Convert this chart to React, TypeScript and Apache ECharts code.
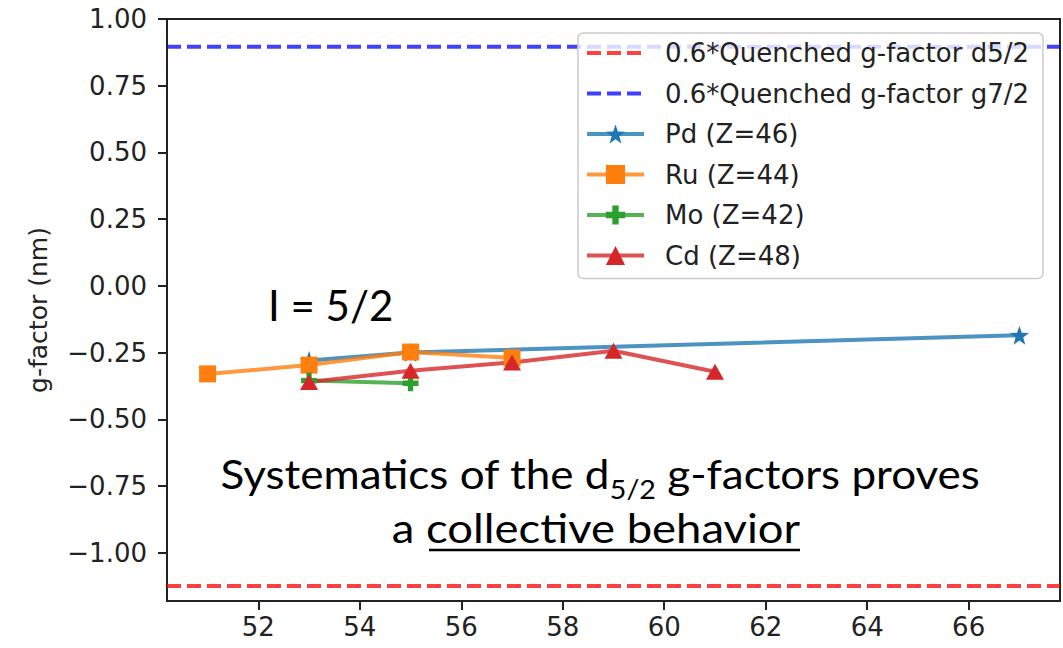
import React, { useEffect, useRef } from "react";
import * as echarts from "echarts";

// Neutron number N on the x axis, g-factor (nm) on the y axis
const pdPoints: [number, number][] = [[53, -0.28], [55, -0.25], [67, -0.185]];
const ruPoints: [number, number][] = [[51, -0.33], [53, -0.297], [55, -0.248], [57, -0.27]];
const moPoints: [number, number][] = [[53, -0.355], [55, -0.365]];
const cdPoints: [number, number][] = [[53, -0.36], [55, -0.318], [57, -0.287], [59, -0.243], [61, -0.322]];

// Quenched single-particle reference values
const quenchedD52 = -1.125;
const quenchedG72 = 0.896;

const xRange: [number, number] = [50.2, 67.8];
const yRange: [number, number] = [-1.181, 1.0];
const xTicks = [52, 54, 56, 58, 60, 62, 64, 66];
const yTicks = [-1.0, -0.75, -0.5, -0.25, 0.0, 0.25, 0.5, 0.75, 1.0];

const seriesNames = [
  "0.6*Quenched g-factor d5/2",
  "0.6*Quenched g-factor g7/2",
  "Pd (Z=46)",
  "Ru (Z=44)",
  "Mo (Z=42)",
  "Cd (Z=48)",
];

const STAR =
  "path://M0,-10 L2.35,-3.24 L9.51,-3.09 L3.8,1.24 L5.88,8.09 L0,4 L-5.88,8.09 L-3.8,1.24 L-9.51,-3.09 L-2.35,-3.24 Z";
const PLUS =
  "path://M-3.3,-10 L3.3,-10 L3.3,-3.3 L10,-3.3 L10,3.3 L3.3,3.3 L3.3,10 L-3.3,10 L-3.3,3.3 L-10,3.3 L-10,-3.3 L-3.3,-3.3 Z";

const fmt = (v: number) => {
  const s = Math.abs(v).toFixed(2);
  return v < 0 ? "\u2212" + s : s;
};

export default function App() {
  const ref = useRef<HTMLDivElement>(null);

  useEffect(() => {
    document.body.style.margin = "0";
    if (!ref.current) return;
    const chart = echarts.init(ref.current, undefined, { renderer: "svg" });

    const tickFont = { fontFamily: "DejaVu Sans", fontSize: 26, color: "#222" };

    const dataLine = (
      name: string,
      data: [number, number][],
      color: string,
      symbol: string,
      symbolSize: number | number[]
    ) => ({
      name,
      type: "line",
      data,
      symbol,
      symbolSize,
      showSymbol: true,
      itemStyle: { color, opacity: 1 },
      lineStyle: { color, width: 4, opacity: 0.8 },
      emphasis: { disabled: true },
    });

    const hLine = (name: string, value: number, color: string) => ({
      name,
      type: "line",
      data: [
        [xRange[0], value],
        [xRange[1], value],
      ],
      symbol: "none",
      itemStyle: { color },
      lineStyle: { color, width: 4, type: [14, 6] },
      emphasis: { disabled: true },
    });

    chart.setOption({
      animation: false,
      grid: {
        left: 167,
        right: 3,
        top: 19,
        bottom: 47,
        show: true,
        borderColor: "#222",
        borderWidth: 2,
        backgroundColor: "transparent",
      },
      xAxis: {
        type: "value",
        min: xRange[0],
        max: xRange[1],
        axisLine: { show: false, onZero: false },
        splitLine: { show: false },
        axisTick: {
          show: true,
          customValues: xTicks,
          length: 9,
          lineStyle: { color: "#222", width: 2 },
        },
        axisLabel: {
          customValues: xTicks,
          margin: 13,
          formatter: (v: number) => String(v),
          ...tickFont,
        },
      },
      yAxis: {
        type: "value",
        min: yRange[0],
        max: yRange[1],
        name: "g-factor (nm)",
        nameLocation: "middle",
        nameGap: 116,
        nameRotate: 90,
        nameTextStyle: { fontFamily: "DejaVu Sans", fontSize: 25, color: "#222" },
        axisLine: { show: false, onZero: false },
        splitLine: { show: false },
        axisTick: {
          show: true,
          customValues: yTicks,
          length: 9,
          lineStyle: { color: "#222", width: 2 },
        },
        axisLabel: {
          customValues: yTicks,
          margin: 20,
          formatter: (v: number) => fmt(v),
          ...tickFont,
        },
      },
      legend: {
        data: seriesNames.map((name, i) =>
          i < 2 ? { name, itemStyle: { opacity: 0 } } : { name }
        ),
        orient: "vertical",
        left: 578,
        top: 33,
        padding: [7, 14, 10, 7],
        itemWidth: 57,
        itemHeight: 24,
        itemGap: 14.5,
        selectedMode: false,
        backgroundColor: "rgba(255,255,255,0.8)",
        borderColor: "#cccccc",
        borderWidth: 1.5,
        borderRadius: 5,
        lineStyle: { width: 4 },
        textStyle: {
          fontFamily: "DejaVu Sans",
          fontSize: 26,
          lineHeight: 24,
          color: "#222",
          padding: [0, 0, 0, 16],
        },
      },
      series: [
        hLine(seriesNames[0], quenchedD52, "rgba(255,0,0,0.75)"),
        hLine(seriesNames[1], quenchedG72, "rgba(0,0,255,0.75)"),
        dataLine(seriesNames[2], pdPoints, "#1f77b4", STAR, 19),
        dataLine(seriesNames[3], ruPoints, "#ff7f0e", "rect", 17),
        dataLine(seriesNames[4], moPoints, "#2ca02c", PLUS, 16),
        dataLine(seriesNames[5], cdPoints, "#d62728", "triangle", [18, 16]),
      ],
      graphic: [
        {
          type: "text",
          x: 268,
          y: 284,
          style: {
            text: "I = 5/2",
            fontFamily: "Lato",
            fontSize: 42,
            fill: "#000",
          },
        },
        {
          type: "text",
          x: 600,
          y: 474,
          scaleX: 1.1,
          style: {
            text: "{n|Systematics of the d}{s|5/2}{n| g-factors proves}",
            align: "center",
            verticalAlign: "middle",
            rich: {
              n: { fontFamily: "Lato", fontSize: 40, lineHeight: 48, fill: "#000" },
              s: { fontFamily: "Lato", fontSize: 26, lineHeight: 26, padding: [30, 0, 0, 0], fill: "#000" },
            },
          },
        },
        {
          type: "text",
          x: 596,
          y: 528,
          scaleX: 1.136,
          style: {
            text: "a collective behavior",
            align: "center",
            verticalAlign: "middle",
            fontFamily: "Lato",
            fontSize: 40,
            fill: "#000",
          },
        },
        {
          type: "line",
          shape: { x1: 429, y1: 550, x2: 800, y2: 550 },
          style: { stroke: "#000", lineWidth: 2.5 },
        },
      ],
    });

    return () => chart.dispose();
  }, []);

  return <div ref={ref} style={{ width: 1063, height: 648 }} />;
}
